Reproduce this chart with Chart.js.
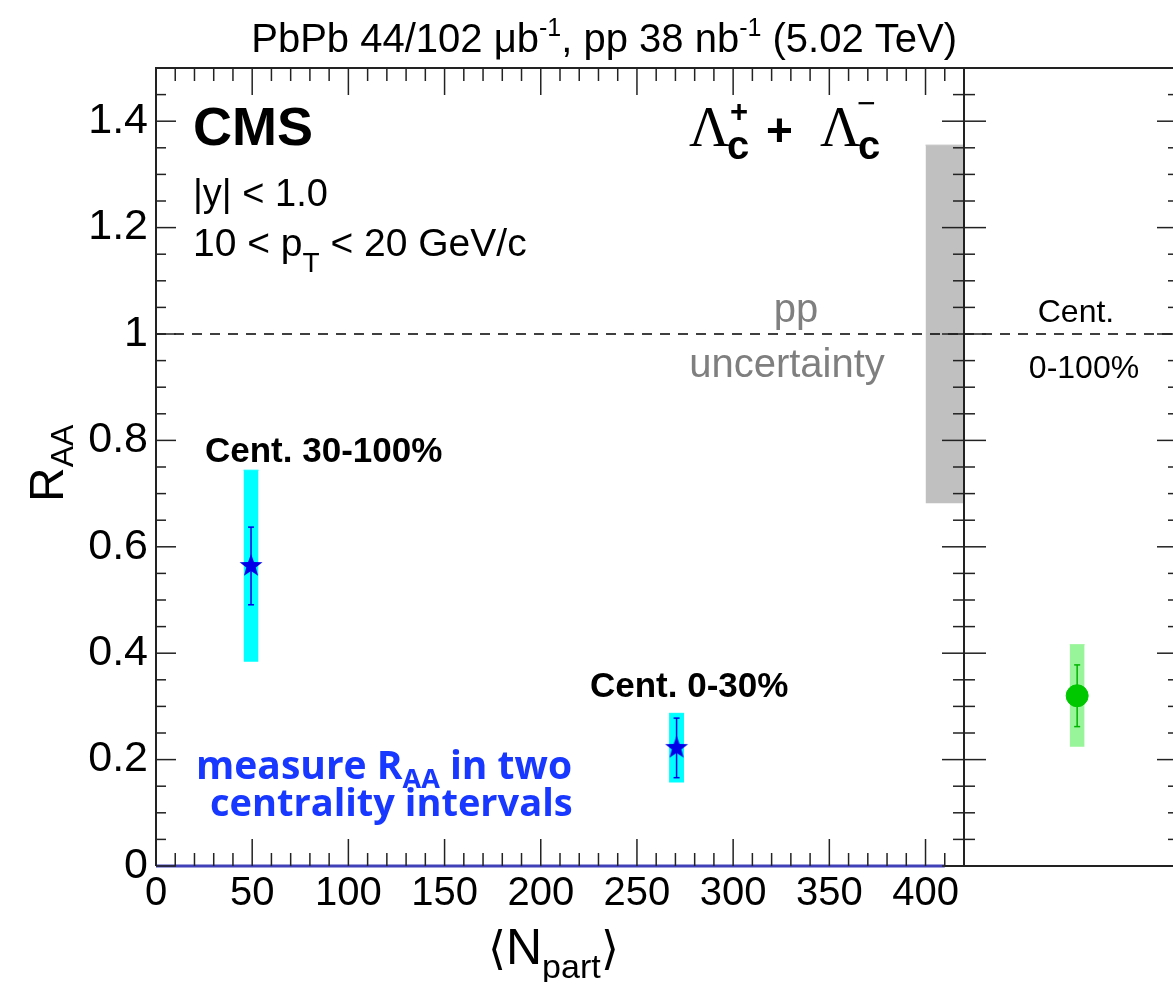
<!DOCTYPE html>
<html>
<head>
<meta charset="utf-8">
<script src="https://cdn.jsdelivr.net/npm/chart.js@4.4.1/dist/chart.umd.min.js"></script>
<style>
  html, body { margin: 0; padding: 0; background: #fff; overflow: hidden; width: 1173px; height: 982px; }
  #mainChart { position: absolute; left: 0; top: 0; }
  #sideChart { position: absolute; left: 900px; top: 0; }
</style>
</head>
<body>
<canvas id="mainChart" width="1173" height="982"></canvas>
<canvas id="sideChart" width="300" height="982"></canvas>
<script>
// Lambda_c R_AA vs <Npart>, two centrality classes + the 0-100% point
const centLabels = ['Cent. 30-100%', 'Cent. 0-30%'];
const nPart = [49.4, 270.6];
const raa = [0.564, 0.222];
const raaStat = [0.073, 0.056];
const raaSyst = [0.180, 0.065];

const mbLabel = ['Cent.', '0-100%'];
const mbPos = [0];
const mbRaa = [0.320];
const mbStat = [0.058];
const mbSyst = [0.096];

// pp normalisation uncertainty box
const ppBoxNpart = [400, 420];
const ppBoxRaa = [0.682, 1.355];
const unity = 1;
const zeroLineNpart = [0, 410];

const xTicks = [0, 50, 100, 150, 200, 250, 300, 350, 400];
const yTicks = [0, 0.2, 0.4, 0.6, 0.8, 1, 1.2, 1.4];

const BOX_HALF = 3.9;        // Npart units
const MB_BOX_HALF = 0.066;   // side panel x units
const SANS = '"Liberation Sans", Arial, Helvetica, sans-serif';

function starMarker(color, r) {
    const c = document.createElement('canvas');
    const s = Math.ceil(r * 2 + 4);
    c.width = c.height = s;
    const g = c.getContext('2d');
    g.translate(s / 2, s / 2);
    g.beginPath();
    for (let k = 0; k < 10; k++) {
        const rad = k % 2 ? r * 0.42 : r;
        const ang = -Math.PI / 2 + k * Math.PI / 5;
        g.lineTo(rad * Math.cos(ang), rad * Math.sin(ang));
    }
    g.closePath();
    g.fillStyle = color;
    g.fill();
    return c;
}

// draws a row of text pieces (for sub/superscripts); each run = [text, font, dy, color]
function drawRuns(ctx, x, y, runs, align) {
    ctx.save();
    ctx.textBaseline = 'alphabetic';
    ctx.textAlign = 'left';
    let total = 0;
    runs.forEach(r => { ctx.font = r[1]; total += ctx.measureText(r[0]).width; });
    let cx = align === 'right' ? x - total : align === 'center' ? x - total / 2 : x;
    runs.forEach(r => {
        ctx.font = r[1];
        ctx.fillStyle = r[3] || '#000';
        ctx.fillText(r[0], cx, y + (r[2] || 0));
        cx += ctx.measureText(r[0]).width;
    });
    ctx.restore();
}

const f = (size, weight, family) => (weight || 'normal') + ' ' + size + 'px ' + (family || SANS);

// frame + inward ticks, ROOT style
const frameTicks = {
    id: 'frameTicks',
    beforeDatasetsDraw(chart) {
        const {ctx, chartArea: a} = chart;
        ctx.save();
        ctx.strokeStyle = '#222';
        ctx.lineWidth = 2;
        ctx.beginPath();
        ctx.moveTo(a.left, a.bottom);
        ctx.lineTo(a.right, a.bottom);
        ctx.stroke();
        ctx.restore();
    },
    afterDatasetsDraw(chart, args, opts) {
        const {ctx, chartArea: a, scales} = chart;
        const seg = (x1, y1, x2, y2) => { ctx.beginPath(); ctx.moveTo(x1, y1); ctx.lineTo(x2, y2); ctx.stroke(); };
        const isMajor = (v, m) => Math.abs(v / m - Math.round(v / m)) < 1e-6;
        ctx.save();
        ctx.strokeStyle = '#222';
        ctx.lineWidth = 1.5;
        if (opts.xMinor) {
            const sx = scales.x;
            for (let i = 0; sx.min + i * opts.xMinor <= sx.max + 1e-9; i++) {
                const v = sx.min + i * opts.xMinor;
                const px = sx.getPixelForValue(v);
                const len = isMajor(v, opts.xMajor) ? 27 : 13;
                seg(px, a.bottom, px, a.bottom - len);
                seg(px, a.top, px, a.top + len);
            }
        }
        const sy = scales.y;
        for (let i = 0; sy.min + i * opts.yMinor <= sy.max + 1e-9; i++) {
            const v = sy.min + i * opts.yMinor;
            const py = sy.getPixelForValue(v);
            const major = isMajor(v, opts.yMajor);
            seg(a.left, py, a.left + (major ? opts.leftLen[0] : opts.leftLen[1]), py);
            seg(a.right, py, a.right - (major ? opts.rightLen[0] : opts.rightLen[1]), py);
        }
        ctx.lineWidth = 2;
        ctx.beginPath();
        ctx.moveTo(a.left, a.bottom);
        ctx.lineTo(a.left, a.top);
        ctx.lineTo(a.right, a.top);
        ctx.lineTo(a.right, a.bottom);
        ctx.stroke();
        ctx.restore();
    }
};

const mainLabels = {
    id: 'mainLabels',
    afterDraw(chart) {
        const ctx = chart.ctx;
        drawRuns(ctx, 957, 52, [
            ['PbPb 44/102 \u03bcb', f(40)], ['-1', f(25), -16], [', pp 38 nb', f(40)],
            ['-1', f(25), -16], [' (5.02 TeV)', f(40)]
        ], 'right');

        drawRuns(ctx, 193, 145, [['CMS', f(54, 'bold')]]);
        drawRuns(ctx, 193, 206, [['|y| < 1.0', f(38)]]);
        drawRuns(ctx, 193, 256, [['10 < p', f(39)], ['T', f(28), 16], [' < 20 GeV/c', f(39)]]);

        // Lambda_c^+ + Lambda_c^-
        const serif = f(56, 'normal', '"Liberation Serif", "Times New Roman", serif');
        drawRuns(ctx, 689, 146, [['\u039b', serif]]);
        drawRuns(ctx, 727, 159, [['c', f(40, 'bold')]]);
        drawRuns(ctx, 730, 122, [['+', f(31, 'bold')]]);
        drawRuns(ctx, 766, 146, [['+', f(46, 'bold')]]);
        drawRuns(ctx, 820, 146, [['\u039b', serif]]);
        drawRuns(ctx, 858, 159, [['c', f(40, 'bold')]]);
        drawRuns(ctx, 857, 114, [['\u2212', f(32)]]);

        drawRuns(ctx, 796, 322, [['pp', f(40, 'normal'), 0, '#7f7f7f']], 'center');
        drawRuns(ctx, 787, 377, [['uncertainty', f(40, 'normal'), 0, '#7f7f7f']], 'center');

        drawRuns(ctx, 205, 462, [[centLabels[0], f(35, 'bold')]]);
        drawRuns(ctx, 590, 697, [[centLabels[1], f(35, 'bold')]]);

        const blue = '#1838ff';
        const ob = s => 'bold ' + s + 'px "Open Sans", sans-serif';
        drawRuns(ctx, 196, 779, [['measure R', ob(39), 0, blue], ['AA', ob(27), 9, blue], [' in two', ob(39), 0, blue]]);
        drawRuns(ctx, 210, 816, [['centrality intervals', ob(38), 0, blue]]);

        // axis titles
        drawRuns(ctx, 488, 964, [['\u27e8', f(46)], ['N', f(50)], ['part', f(34), 14], ['\u27e9', f(46)]]);
        ctx.save();
        ctx.translate(63, 502);
        ctx.rotate(-Math.PI / 2);
        drawRuns(ctx, 0, 0, [['R', f(48)], ['AA', f(32), 10]]);
        ctx.restore();
    }
};

const sideLabels = {
    id: 'sideLabels',
    afterDraw(chart) {
        const ctx = chart.ctx;
        drawRuns(ctx, 176, 322, [[mbLabel[0], f(32)]], 'center');
        drawRuns(ctx, 184, 378, [[mbLabel[1], f(32)]], 'center');
    }
};

const blue = '#0000e8';
const star = starMarker(blue, 12);

function boxSet(x, half, lo, hi, color, order) {
    return {
        type: 'line',
        data: [{x: x - half, y: hi}, {x: x + half, y: hi}],
        fill: {value: lo},
        backgroundColor: color,
        borderColor: color,
        borderWidth: 1,
        pointRadius: 0,
        order: order
    };
}

function errSet(x, lo, hi, color, order) {
    return {
        type: 'line',
        data: [{x: x, y: lo}, {x: x, y: hi}],
        borderColor: color,
        borderWidth: 1.5,
        pointStyle: 'line',
        pointRadius: 3,
        pointBorderWidth: 1.5,
        pointBorderColor: color,
        fill: false,
        order: order
    };
}

const mainSets = [];
nPart.forEach((x, i) => {
    mainSets.push(boxSet(x, BOX_HALF, raa[i] - raaSyst[i], raa[i] + raaSyst[i], '#00ffff', 6));
    mainSets.push(errSet(x, raa[i] - raaStat[i], raa[i] + raaStat[i], blue, 2));
});
mainSets.push(boxSet((ppBoxNpart[0] + ppBoxNpart[1]) / 2, (ppBoxNpart[1] - ppBoxNpart[0]) / 2,
    ppBoxRaa[0], ppBoxRaa[1], '#c0c0c0', 7));
mainSets.push({
    type: 'line',
    data: [{x: 0, y: unity}, {x: 420, y: unity}],
    borderColor: '#000', borderWidth: 1.5, borderDash: [10, 8], pointRadius: 0, fill: false, order: 4
});
mainSets.push({
    type: 'line',
    data: zeroLineNpart.map(x => ({x: x, y: 0})),
    borderColor: '#4040b8', borderWidth: 3, pointRadius: 0, fill: false, clip: false, order: 3
});
mainSets.push({
    type: 'line',
    data: nPart.map((x, i) => ({x: x, y: raa[i]})),
    showLine: false,
    pointStyle: star,
    pointRadius: 12,
    order: 1
});

new Chart(document.getElementById('mainChart'), {
    type: 'line',
    data: {datasets: mainSets},
    options: {
        responsive: false,
        animation: false,
        events: [],
        layout: {padding: {left: 0, top: 68, right: 209, bottom: 0}},
        plugins: {
            legend: {display: false},
            tooltip: {enabled: false},
            frameTicks: {xMinor: 10, xMajor: 50, yMinor: 0.05, yMajor: 0.2, leftLen: [20, 10], rightLen: [22, 11]}
        },
        scales: {
            x: {
                type: 'linear', min: 0, max: 420,
                afterBuildTicks: s => { s.ticks = xTicks.map(v => ({value: v})); },
                afterFit: s => { s.height = 116; },
                grid: {display: false, drawTicks: false},
                border: {display: false},
                ticks: {font: {family: SANS, size: 40}, color: '#000', padding: 4, maxRotation: 0, autoSkip: false}
            },
            y: {
                type: 'linear', min: 0, max: 1.5,
                afterBuildTicks: s => { s.ticks = yTicks.map(v => ({value: v})); },
                afterFit: s => { s.width = 156; },
                grid: {display: false, drawTicks: false},
                border: {display: false},
                ticks: {font: {family: SANS, size: 43}, color: '#000', padding: 8, autoSkip: false,
                        callback: v => String(Number(v.toFixed(1)))}
            }
        }
    },
    plugins: [frameTicks, mainLabels]
});

const sideSets = [
    boxSet(mbPos[0], MB_BOX_HALF, mbRaa[0] - mbSyst[0], mbRaa[0] + mbSyst[0], '#99f599', 6),
    errSet(mbPos[0], mbRaa[0] - mbStat[0], mbRaa[0] + mbStat[0], '#00b400', 2),
    {
        type: 'line',
        data: [{x: -1, y: unity}, {x: 0.9, y: unity}],
        borderColor: '#000', borderWidth: 1.5, borderDash: [10, 8], pointRadius: 0, fill: false, order: 4
    },
    {
        type: 'line',
        data: mbPos.map((x, i) => ({x: x, y: mbRaa[i]})),
        showLine: false,
        pointStyle: 'circle',
        pointRadius: 11,
        backgroundColor: '#00c800',
        borderColor: '#00c800',
        order: 1
    }
];

new Chart(document.getElementById('sideChart'), {
    type: 'line',
    data: {datasets: sideSets},
    options: {
        responsive: false,
        animation: false,
        events: [],
        layout: {padding: {left: 64, top: 68, right: 21, bottom: 116}},
        plugins: {
            legend: {display: false},
            tooltip: {enabled: false},
            frameTicks: {yMinor: 0.05, yMajor: 0.2, leftLen: [22, 11], rightLen: [22, 11]}
        },
        scales: {
            x: {type: 'linear', min: -1, max: 0.9, display: false},
            y: {type: 'linear', min: 0, max: 1.5, display: false}
        }
    },
    plugins: [frameTicks, sideLabels]
});
</script>
</body>
</html>
